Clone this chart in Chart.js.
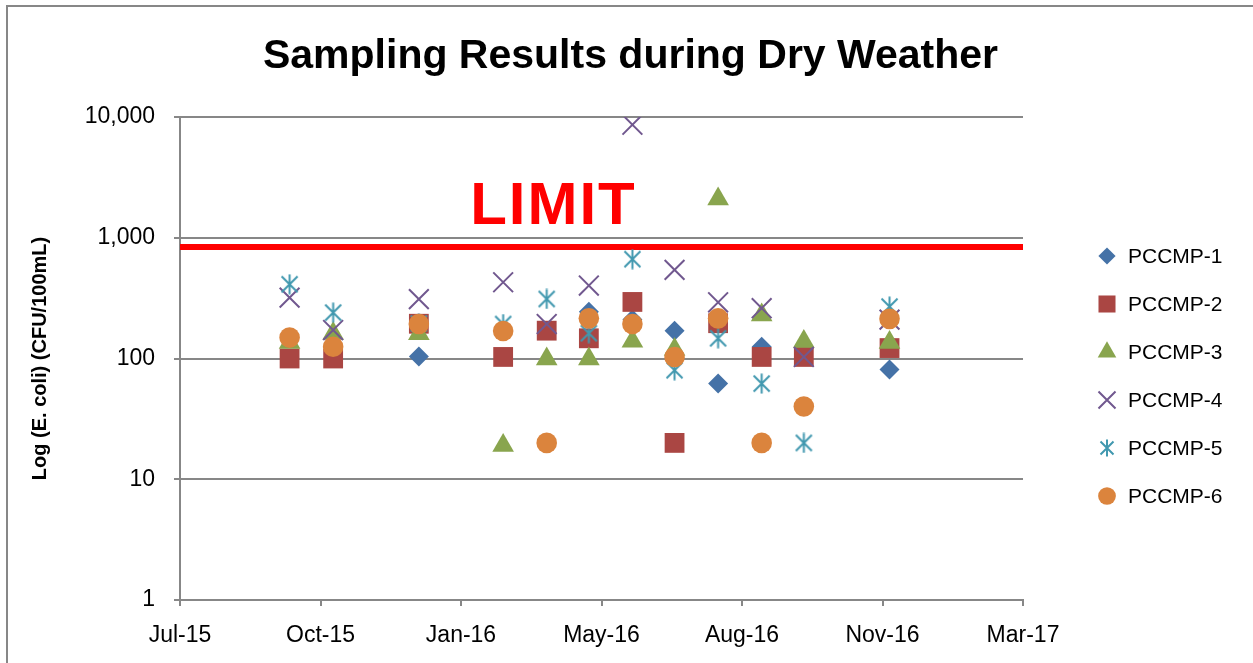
<!DOCTYPE html>
<html>
<head>
<meta charset="utf-8">
<script src="https://cdn.jsdelivr.net/npm/chart.js@4/dist/chart.umd.min.js"></script>
<style>
  html, body { margin: 0; padding: 0; background: #ffffff; }
  #wrap { width: 1253px; height: 663px; position: relative; }
  canvas { display: block; }
</style>
</head>
<body>
<div id="wrap"><canvas id="chart" width="1253" height="663"></canvas></div>
<script>
// ---------- DATA ----------
const chartTitle = 'Sampling Results during Dry Weather';
const yAxisTitle = 'Log (E. coli) (CFU/100mL)';
const seriesNames = ['PCCMP-1', 'PCCMP-2', 'PCCMP-3', 'PCCMP-4', 'PCCMP-5', 'PCCMP-6'];
const sampleDates = ['2015-10-01', '2015-11-01', '2016-01-01', '2016-03-01', '2016-04-01', '2016-05-01',
                     '2016-06-01', '2016-07-01', '2016-08-01', '2016-09-01', '2016-10-01', '2016-12-01'];
const pccmp1 = [null, null, 104, null, null, 244, 210, 170, 62, 125, null, 81];
const pccmp2 = [100, 100, 194, 103, 170, 147, 294, 20, 196, 103, 103, 122];
const pccmp3 = [136, 161, 160, 19, 99, 99, 139, 119, 2094, 229, 138, 136];
const pccmp4 = [319, 172, 310, 428, 193, 402, 8630, 542, 292, 261, 103, 210];
const pccmp5 = [412, 240, 195, 193, 311, 162, 665, 80, 147, 62, 20, 269];
const pccmp6 = [149, 125, 193, 169, 20, 215, 193, 103, 215, 20, 40, 213];
const limitLevel = 840;
const limitText = 'LIMIT';
const yTickValues = [1, 10, 100, 1000, 10000];
const xTickLabels = ['Jul-15', 'Oct-15', 'Jan-16', 'May-16', 'Aug-16', 'Nov-16', 'Mar-17'];
const xAxisStart = '2015-07-15';
const xAxisSpanDays = 600;
const xAxisStepDays = 100;

// ---------- HELPERS ----------
const DAY = 86400000;
function dayOffset(dateStr) {
  const [y, m, d] = dateStr.split('-').map(Number);
  const [y0, m0, d0] = xAxisStart.split('-').map(Number);
  return Math.round((Date.UTC(y, m - 1, d) - Date.UTC(y0, m0 - 1, d0)) / DAY);
}
function toPoints(values) {
  return sampleDates.map((d, i) => ({ x: dayOffset(d), y: values[i] })).filter(p => p.y !== null);
}
function makeAsterisk(color, size, lw) {
  const c = document.createElement('canvas');
  c.width = size; c.height = size;
  const g = c.getContext('2d');
  g.strokeStyle = color; g.lineWidth = lw; g.lineCap = 'butt';
  const m = size / 2, e = size - 1, d = 2.5;
  g.beginPath();
  g.moveTo(m, 0.5); g.lineTo(m, e + 0.5);
  g.moveTo(d, d); g.lineTo(size - d, size - d);
  g.moveTo(size - d, d); g.lineTo(d, size - d);
  g.stroke();
  return c;
}

const FONT = "'Liberation Sans', Arial, sans-serif";
const GRID = '#878787';
const colors = ['#4572A7', '#AA4643', '#89A54E', '#71588F', '#4198AF', '#DB843D'];
const asteriskBig = makeAsterisk(colors[4], 21, 2);
const asteriskSmall = makeAsterisk(colors[4], 18, 2);

const styles = [
  { pointStyle: 'rectRot', radius: 10, borderWidth: 0 },
  { pointStyle: 'rect', radius: 14, borderWidth: 0 },
  { pointStyle: 'triangle', radius: 12.5, borderWidth: 0 },
  { pointStyle: 'crossRot', radius: 14, borderWidth: 2 },
  { pointStyle: asteriskBig, radius: 10, borderWidth: 0, legendStyle: asteriskSmall },
  { pointStyle: 'circle', radius: 10.3, borderWidth: 0 }
];
const seriesValues = [pccmp1, pccmp2, pccmp3, pccmp4, pccmp5, pccmp6];

const datasets = seriesNames.map((name, i) => ({
  type: 'scatter',
  label: name,
  data: toPoints(seriesValues[i]),
  showLine: false,
  pointStyle: styles[i].pointStyle,
  pointRadius: styles[i].radius,
  pointHoverRadius: styles[i].radius,
  pointBackgroundColor: colors[i],
  pointBorderColor: colors[i],
  pointBorderWidth: styles[i].borderWidth,
  order: 6 - i,
  inLegend: true
}));
datasets.push({
  type: 'line',
  label: 'Limit',
  data: [{ x: 0, y: limitLevel }, { x: xAxisSpanDays, y: limitLevel }],
  borderColor: '#FF0000',
  borderWidth: 6,
  pointRadius: 0,
  fill: false,
  order: 20,
  inLegend: false
});

// ---------- PLUGINS ----------
const frame = {
  id: 'frame',
  beforeDraw(chart) {
    const ctx = chart.ctx;
    ctx.save();
    ctx.fillStyle = '#ffffff';
    ctx.fillRect(0, 0, chart.width, chart.height);
    ctx.strokeStyle = GRID;
    ctx.lineWidth = 2;
    ctx.strokeRect(7, 6, chart.width + 50, chart.height + 50);
    ctx.restore();
  }
};

const chartHeading = {
  id: 'chartHeading',
  afterDraw(chart) {
    const ctx = chart.ctx;
    ctx.save();
    ctx.fillStyle = '#000000';
    ctx.font = "bold 41px " + FONT;
    ctx.textAlign = 'center';
    ctx.textBaseline = 'middle';
    ctx.fillText(chartTitle, chart.width / 2 + 4, 57);
    ctx.restore();
  }
};

const limitLabel = {
  id: 'limitLabel',
  afterDatasetsDraw(chart) {
    const ctx = chart.ctx;
    const xs = chart.scales.x, ys = chart.scales.y;
    ctx.save();
    ctx.fillStyle = '#FF0000';
    ctx.font = "bold 60px " + FONT;
    if ('letterSpacing' in ctx) ctx.letterSpacing = '2px';
    ctx.textAlign = 'left';
    ctx.textBaseline = 'alphabetic';
    ctx.fillText(limitText, xs.getPixelForValue(206.5), ys.getPixelForValue(1300));
    ctx.restore();
  }
};

const sideLegend = {
  id: 'sideLegend',
  afterDraw(chart) {
    const ctx = chart.ctx;
    let row = 0;
    chart.data.datasets.forEach((ds, i) => {
      if (!ds.inLegend) return;
      const y = 256 + row * 48;
      const st = styles[i];
      ctx.save();
      ctx.fillStyle = colors[i];
      ctx.strokeStyle = colors[i];
      ctx.lineWidth = st.borderWidth;
      Chart.helpers.drawPoint(ctx, {
        pointStyle: st.legendStyle || st.pointStyle,
        radius: st.radius * 0.86,
        rotation: 0,
        borderWidth: st.borderWidth
      }, 1107, y);
      ctx.fillStyle = '#000000';
      ctx.font = "21px " + FONT;
      ctx.textAlign = 'left';
      ctx.textBaseline = 'middle';
      ctx.fillText(ds.label, 1128, y + 1);
      ctx.restore();
      row++;
    });
  }
};

// ---------- CHART ----------
new Chart(document.getElementById('chart'), {
  data: { datasets },
  options: {
    responsive: false,
    animation: false,
    devicePixelRatio: 1,
    layout: { padding: { left: 0, right: 230, top: 117, bottom: 0 } },
    plugins: {
      legend: { display: false },
      tooltip: { enabled: false },
      title: { display: false }
    },
    scales: {
      x: {
        type: 'linear',
        position: 'bottom',
        min: 0,
        max: xAxisSpanDays,
        afterFit(scale) { scale.height = 63; },
        ticks: {
          stepSize: xAxisStepDays,
          autoSkip: false,
          maxRotation: 0,
          color: '#000000',
          font: { family: FONT, size: 23 },
          padding: 16,
          callback: (v, i) => xTickLabels[i]
        },
        grid: { display: true, drawOnChartArea: false, drawTicks: true, tickLength: 6, color: GRID, lineWidth: 2 },
        border: { display: true, color: GRID, width: 2 }
      },
      y: {
        type: 'logarithmic',
        position: 'left',
        min: 1,
        max: 10000,
        afterFit(scale) { scale.width = 180; },
        afterBuildTicks(scale) { scale.ticks = yTickValues.map(v => ({ value: v })); },
        ticks: {
          color: '#000000',
          font: { family: FONT, size: 23 },
          padding: 19,
          callback: (v) => Number(v).toLocaleString('en-US')
        },
        grid: { display: true, drawOnChartArea: true, drawTicks: true, tickLength: 6, color: GRID, lineWidth: 2 },
        border: { display: true, color: GRID, width: 2 },
        title: {
          display: true,
          text: yAxisTitle,
          color: '#000000',
          font: { family: FONT, size: 20, weight: 'bold', lineHeight: 1.2 },
          padding: { top: 28, bottom: 0 }
        }
      }
    }
  },
  plugins: [frame, chartHeading, limitLabel, sideLegend]
});
</script>
</body>
</html>
